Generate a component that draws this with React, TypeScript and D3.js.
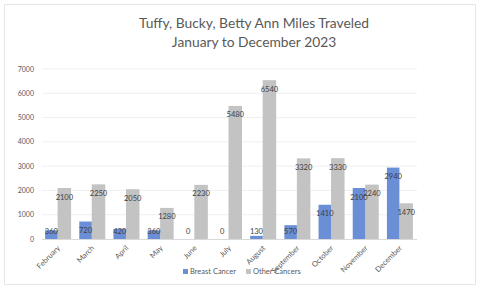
import React from "react";
import * as d3 from "d3";

const months = ["February","March","April","May","June","July","August","September","October","November","December"];
const breastCancer = [360,720,420,360,0,0,130,570,1410,2100,2940];
const otherCancers = [2100,2250,2050,1280,2230,5480,6540,3320,3330,2240,1470];
const yTicks = [0,1000,2000,3000,4000,5000,6000,7000];
const titleLines = ["Tuffy, Bucky, Betty Ann Miles Traveled","January to December 2023"];
const seriesNames = ["Breast Cancer","Other Cancers"];

const W = 480, H = 291;
const BLUE = "#6b8fd6";
const GRAY = "#c3c3c3";
const FONT = "Lato, 'Open Sans', sans-serif";

export default function App() {
  const x = d3.scaleBand<string>().domain(months).range([41, 417]).paddingInner(0).paddingOuter(0);
  const y = d3.scaleLinear().domain([0, 7000]).range([239, 69]);
  const bw = 12.5;
  const step = x.bandwidth();
  const labelY = (v: number) => Math.min(y(v) + 11.5, 234);
  return (
    <svg width={W} height={H} style={{ position: "absolute", left: 0, top: 0, display: "block" }} fontFamily={FONT}>
      <rect x={0} y={0} width={W} height={H} fill="#fff" />
      <rect x={4.5} y={4.5} width={471} height={280} fill="#fff" stroke="#e6e6e6" />
      {titleLines.map((t, i) => (
        <text key={i} x={254} y={28 + i * 19} textAnchor="middle" fontSize={13.8} fill="#595959">{t}</text>
      ))}
      {yTicks.map((t) => (
        <g key={t}>
          {t > 0 && <line x1={42} x2={417} y1={y(t)} y2={y(t)} stroke="#efefef" strokeWidth={1} />}
          <text x={34} y={y(t) + 2.5} textAnchor="end" fontSize={7} fill="#595959">{t}</text>
        </g>
      ))}
      {months.map((m, i) => {
        const c = (x(m) as number) + step / 2;
        const b = breastCancer[i];
        const o = otherCancers[i];
        return (
          <g key={m}>
            <rect x={c - 0.5} y={y(o)} width={bw + 1} height={239 - y(o)} fill={GRAY} />
            <rect x={c - bw - 0.5} y={y(b)} width={bw} height={239 - y(b)} fill={BLUE} />
            <text x={c - bw / 2 - 0.5} y={labelY(b)} textAnchor="middle" fontSize={7.5} fill="#404040">{b}</text>
            <text x={c + bw / 2} y={labelY(o)} textAnchor="middle" fontSize={7.5} fill="#404040">{o}</text>
            <text transform={`translate(${c + 2.5},${248.5}) rotate(-45)`} textAnchor="end" fontSize={7.5} fill="#595959">{m}</text>
          </g>
        );
      })}
      <line x1={42} x2={417} y1={239.5} y2={239.5} stroke="#d9d9d9" />
      <rect x={183} y={269} width={5} height={5} fill={BLUE} />
      <text x={190} y={274} fontSize={7.5} fill="#595959">{seriesNames[0]}</text>
      <rect x={246} y={269} width={5} height={5} fill={GRAY} />
      <text x={253} y={274} fontSize={7.5} fill="#595959">{seriesNames[1]}</text>
    </svg>
  );
}
